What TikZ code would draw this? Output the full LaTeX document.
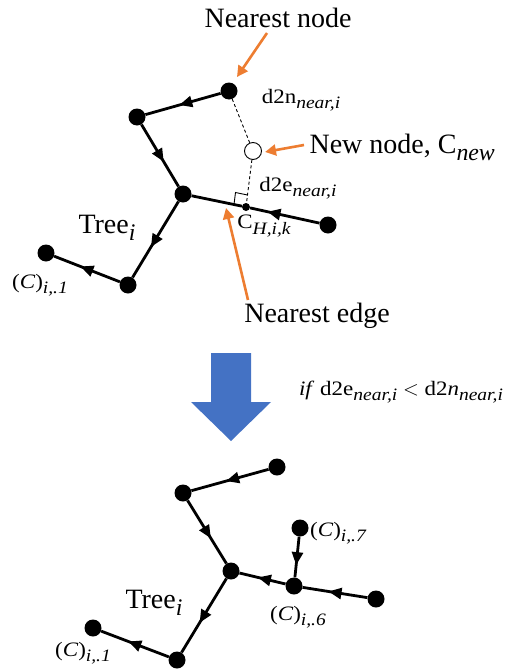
\documentclass[tikz,border=0pt]{standalone}
\usepackage{fontspec}
\setmainfont{Liberation Serif}
\newfontfamily\widefont[FakeStretch=1.12]{Liberation Serif}
\usetikzlibrary{arrows.meta,decorations.markings}

\definecolor{accent}{HTML}{ED7D31}
\definecolor{flow}{HTML}{4472C4}

% italic subscript scaled to the surrounding size
\makeatletter
\newcommand\lsub[2][0.85]{\raisebox{-0.25em}{\fontsize{\fpeval{#1*\f@size}}{\fpeval{#1*\f@size}}\selectfont\itshape #2}}
\makeatother
\newcommand\idx[1]{(\textit{C}\/)\lsub{#1}}

\tikzset{
  dot/.style={circle,fill=black,inner sep=0pt,minimum size=17pt},
  smalldot/.style={circle,fill=black,inner sep=0pt,minimum size=8pt},
  opendot/.style={circle,draw=black,fill=white,line width=0.9pt,inner sep=0pt,minimum size=17pt},
  tedge/.style={line width=2.8pt,postaction={decorate},
    decoration={markings,mark=at position #1 with {\arrow{Triangle[length=13pt,width=11pt]}}}},
  tedge/.default=0.55,
  callout/.style={draw=accent,line width=2.6pt,-{Triangle[length=11pt,width=11pt]}},
  guide/.style={line width=0.9pt,dash pattern=on 3pt off 2.5pt},
  big/.style={font=\fontsize{28}{30}\selectfont},
  small/.style={font=\widefont\fontsize{20.5}{22}\selectfont},
}

\begin{document}
\begin{tikzpicture}[x=1pt,y=-1pt]
\useasboundingbox (0,0) rectangle (521,672);

% ---------- tree before insertion ----------
\node[dot] (A) at (229,91) {};
\node[dot] (B) at (137,117) {};
\node[dot] (C) at (183,194) {};
\node[dot] (D) at (328,225) {};
\node[dot] (E) at (128,285) {};
\node[dot] (F) at (46,253) {};
\node[smalldot] (CH) at (246,207) {};
\node[opendot] (N) at (253,151) {};

\draw[tedge=0.55] (A) -- (B);
\draw[tedge=0.6] (B) -- (C);
\draw[tedge=0.6] (C) -- (E);
\draw[tedge=0.6] (E) -- (F);
\draw[tedge=0.75] (D) -- (CH);
\draw[line width=2.8pt] (CH) -- (C);

\draw[guide] (A) -- (N);
\draw[guide] (N) -- (CH);
\draw[line width=0.9pt] (234,204.5) -- (235.5,192.5) -- (247.5,195);

\node[big] (lnode) at (278,18) {Nearest node};
\node[small] (ld2n) at (301,100) {d2n\lsub{near,i}};
\node[big,anchor=west] (lnew) at (306,147) {New node, C\lsub{new}};
\node[small] (ld2e) at (298,188) {d2e\lsub{near,i}};
\node[small] (lch) at (264,226) {C\lsub{H,i,k}};
\node[big] (ltree) at (107,228) {Tree\lsub{i}};
\node[small] (lc1) at (40,285) {\idx{i,.1}};
\node[big] (ledge) at (317,316) {Nearest edge};

\coordinate (tipnode) at (237,77);
\coordinate (tipnew) at (265,152);
\coordinate (tipedge) at (226,208);
\draw[callout] (267,33) -- (tipnode);
\draw[callout] (304,145) -- (tipnew);
\draw[callout] (248,300) -- (tipedge);

% ---------- transition arrow ----------
\fill[flow] (211,353) -- (251,353) -- (251,402) -- (271,402) -- (231,441)
  -- (191,402) -- (211,402) -- cycle;
\node[small] (lcond) at (401,392) {\textit{if} d2e\lsub{near,i} $<$ d2\textit{n}\lsub{near,i}};

% ---------- tree after insertion ----------
\node[dot] (a) at (277,467) {};
\node[dot] (b) at (183,493) {};
\node[dot] (c) at (231,571) {};
\node[dot] (d) at (376,599) {};
\node[dot] (e) at (177,660) {};
\node[dot] (f) at (93,628) {};
\node[dot] (g) at (300,528) {};
\node[dot] (h) at (294,586) {};

\draw[tedge=0.55] (a) -- (b);
\draw[tedge=0.6] (b) -- (c);
\draw[tedge=0.6] (c) -- (e);
\draw[tedge=0.6] (e) -- (f);
\draw[tedge=0.6] (d) -- (h);
\draw[tedge=0.6] (h) -- (c);
\draw[tedge=0.7] (g) -- (h);

\node[small] (lc7) at (338,533) {\idx{i,.7}};
\node[small] (lc6) at (298,617) {\idx{i,.6}};
\node[big] (ltree2) at (154,603) {Tree\lsub{i}};
\node[small] (lc1b) at (83,653) {\idx{i,.1}};
\end{tikzpicture}
\end{document}
